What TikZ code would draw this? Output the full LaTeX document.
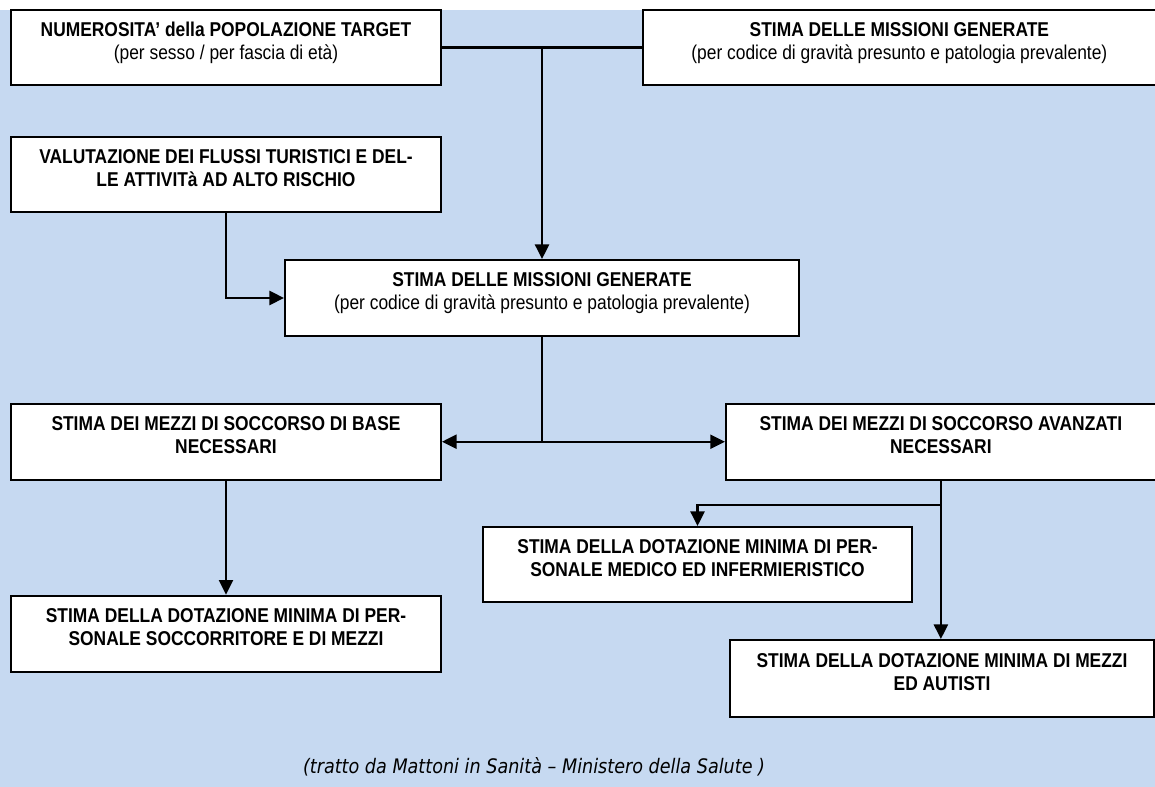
\documentclass[tikz,border=0pt]{standalone}
\usepackage{fontspec}
\usepackage{xcolor}
\usepackage{tikz}
\usetikzlibrary{positioning,arrows.meta}

\newfontfamily\boxfont[FakeStretch=0.87]{Liberation Sans}
\newfontfamily\notefont[FakeStretch=0.88]{DejaVu Sans}
\definecolor{sfondo}{RGB}{198,217,241}

\begin{document}
\begin{tikzpicture}[
    x=0.75pt, y=-0.75pt,
    >={Triangle[length=11pt, width=10.5pt]},
    stima/.style={rectangle, draw=black, line width=1.4pt, fill=white, inner sep=0pt,
        minimum width=#1, minimum height=56.25pt,
        execute at begin node={\begin{minipage}[c][37.5pt][t]{\dimexpr#1-16pt\relax}\centering\boxfont\fontsize{15pt}{17.25pt}\selectfont},
        execute at end node={\end{minipage}}},
    link/.style={line width=1.7pt},
    every node/.style={font=\small}
]

% sfondo
\useasboundingbox (0,0) rectangle (1155,787);
\fill[sfondo] (0,10) rectangle (1155,787);

% prima riga
\node[stima=322.5pt] (numerosita) at (226,47.5) {\textbf{NUMEROSITA’ della POPOLAZIONE TARGET}\\(per sesso / per fascia di età)};
\node[stima=384.75pt] (missioni_top) [right=150pt of numerosita] {\textbf{STIMA DELLE MISSIONI GENERATE}\\(per codice di gravità presunto e patologia prevalente)};
\node[stima=322.5pt] (flussi) [below=37.5pt of numerosita] {\textbf{VALUTAZIONE DEI FLUSSI TURISTICI E DEL-}\\\textbf{LE ATTIVITà AD ALTO RISCHIO}};

% stima centrale
\node[stima=385.5pt, minimum height=57pt] (missioni) at (542,298) {\textbf{STIMA DELLE MISSIONI GENERATE}\\(per codice di gravità presunto e patologia prevalente)};

% mezzi di soccorso
\node[stima=322.5pt, minimum height=57pt] (base) [below=142.5pt of flussi] {\textbf{STIMA DEI MEZZI DI SOCCORSO DI BASE}\\\textbf{NECESSARI}};
\node[stima=322.5pt, minimum height=57pt] (avanzati) [right=212.25pt of base] {\textbf{STIMA DEI MEZZI DI SOCCORSO AVANZATI}\\\textbf{NECESSARI}};

% dotazioni minime
\node[stima=322.5pt, minimum height=57pt] (soccorritore) [below=85.5pt of base] {\textbf{STIMA DELLA DOTAZIONE MINIMA DI PER-}\\\textbf{SONALE SOCCORRITORE E DI MEZZI}};
\node[stima=321.75pt] (medico) at (697.5,564.5) {\textbf{STIMA DELLA DOTAZIONE MINIMA DI PER-}\\\textbf{SONALE MEDICO ED INFERMIERISTICO}};
\node[stima=318pt, minimum height=57.75pt] (autisti) at (942,678.5) {\textbf{STIMA DELLA DOTAZIONE MINIMA DI MEZZI}\\\textbf{ED AUTISTI}};

% fonte
\node[font=\notefont\itshape\fontsize{15pt}{16pt}\selectfont] (fonte) at (534,767) {(tratto da Mattoni in Sanità – Ministero della Salute )};

% collegamenti
\coordinate[below=18pt of avanzati.south] (ramo);
\draw[link] (numerosita.east) -- (missioni_top.west);
\draw[link,->] (numerosita.east -| missioni.north) -- (missioni.north);
\draw[link,->] (flussi.south) |- (missioni.west);
\draw[link,->] (missioni.south) |- (base.east);
\draw[link,->] (missioni.south) |- (avanzati.west);
\draw[link,->] (base.south) -- (soccorritore.north);
\draw[link,->] (avanzati.south) -- (avanzati.south |- autisti.north);
\draw[link,->] (ramo) -| (medico.north);

\end{tikzpicture}
\end{document}
